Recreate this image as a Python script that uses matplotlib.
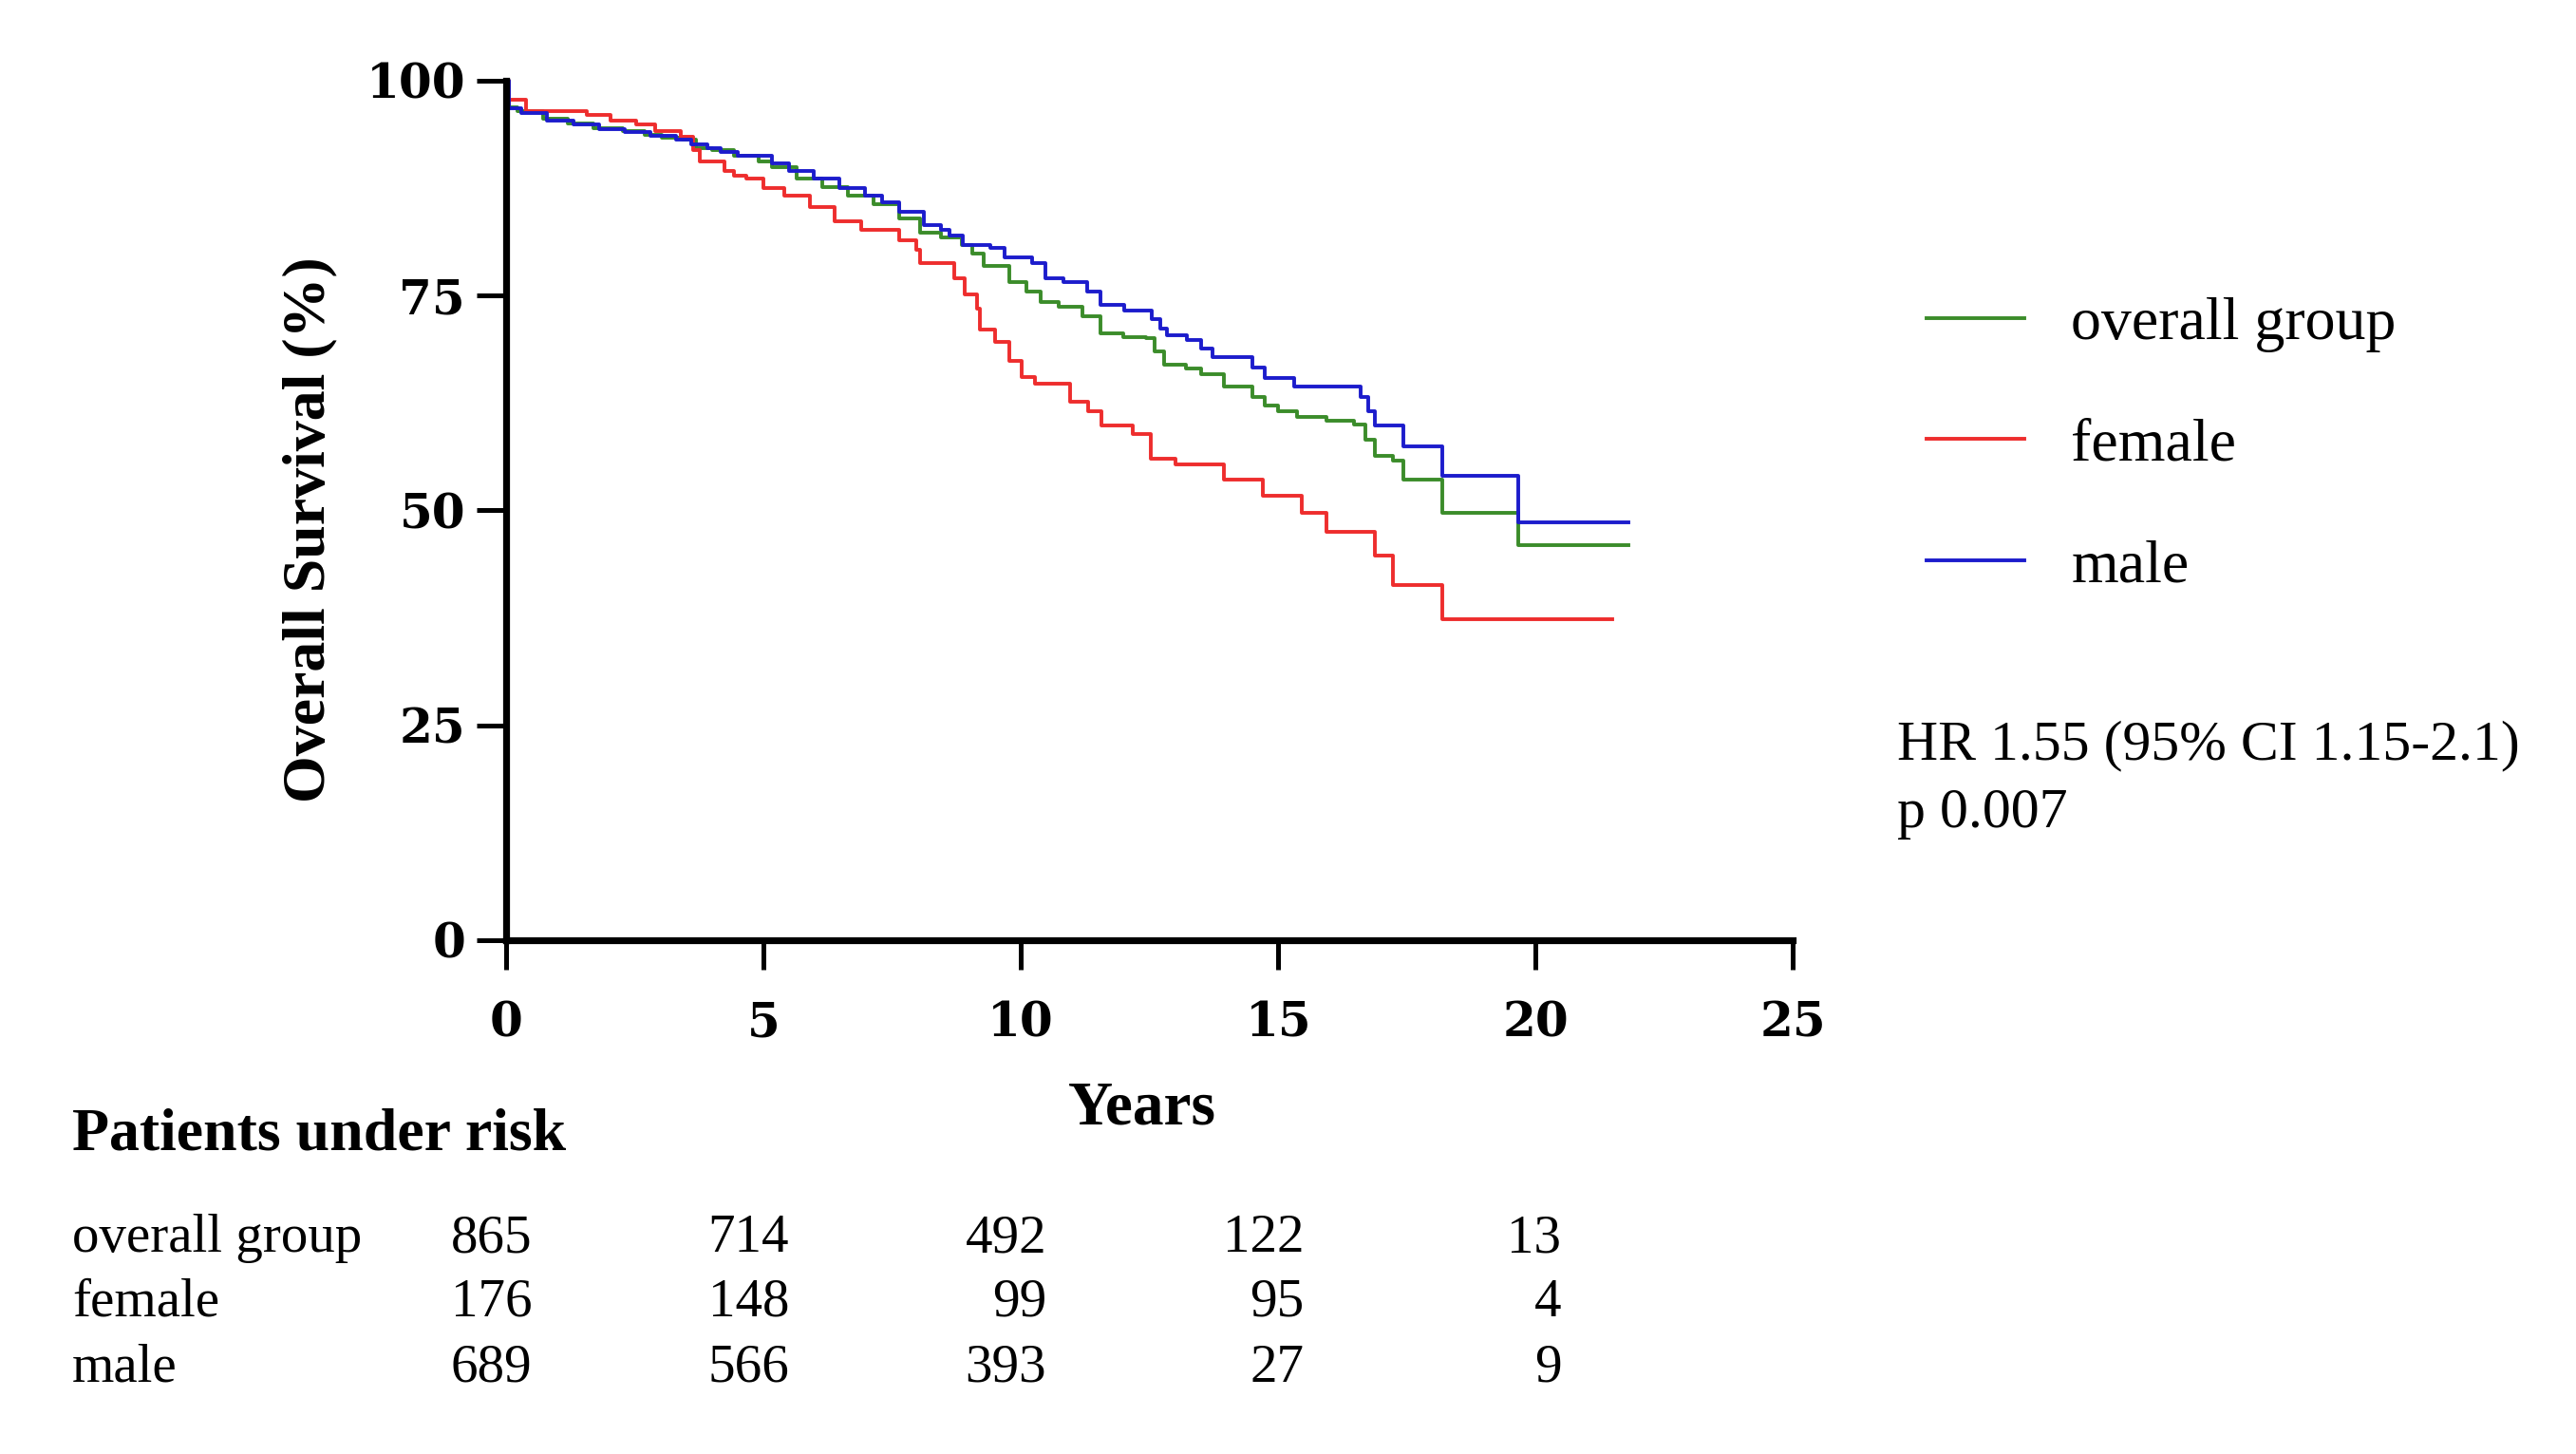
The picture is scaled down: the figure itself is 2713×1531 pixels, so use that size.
import matplotlib
matplotlib.use("Agg")
import matplotlib.pyplot as plt
from matplotlib.transforms import blended_transform_factory

# survival steps (years, % surviving)
overall_t = [0, 0.05, 0.22, 0.71, 1.2, 1.7, 2.27, 2.69, 3.02, 3.43, 3.68, 4.0, 4.42,
             4.91, 5.16, 5.65, 6.15, 6.64, 7.13, 7.63, 8.04, 8.45, 8.86, 9.06, 9.28,
             9.77, 10.1, 10.39, 10.74, 11.19, 11.54, 11.99, 12.43, 12.6, 12.79, 13.2,
             13.5, 13.94, 14.5, 14.74, 15.0, 15.36, 15.93, 16.47, 16.69, 16.87, 17.22,
             17.44, 18.18, 19.66, 21.8]
overall_s = [100, 96.9, 96.5, 95.6, 95.0, 94.5, 94.1, 93.7, 93.4, 93.2, 92.2, 91.9, 91.3,
             90.6, 89.9, 88.6, 87.6, 86.6, 85.6, 84.0, 82.3, 81.8, 80.9, 79.9, 78.4,
             76.6, 75.5, 74.2, 73.7, 72.6, 70.6, 70.2, 70.0, 68.5, 67.0, 66.5,
             65.9, 64.4, 63.2, 62.2, 61.5, 60.9, 60.4, 60.0, 58.2, 56.4, 55.8,
             53.6, 49.7, 46.0, 46.0]

female_t = [0, 0.05, 0.38, 1.57, 2.03, 2.52, 2.89, 3.39, 3.63, 3.76, 4.25, 4.42, 4.67,
            5.0, 5.40, 5.90, 6.39, 6.89, 7.63, 7.96, 8.04, 8.70, 8.90, 9.15, 9.2, 9.5,
            9.77, 10.02, 10.27, 10.96, 11.3, 11.56, 12.17, 12.52, 13.01, 13.94, 14.7,
            15.45, 15.94, 16.87, 17.22, 18.18, 21.49]
female_s = [100, 97.8, 96.5, 96.0, 95.4, 94.9, 94.1, 93.5, 91.9, 90.6, 89.5, 88.9, 88.6,
            87.5, 86.6, 85.3, 83.6, 82.7, 81.4, 80.3, 78.8, 77.0, 75.1, 73.5, 71.1, 69.6,
            67.4, 65.5, 64.8, 62.6, 61.5, 59.9, 58.9, 56.0, 55.3, 53.6, 51.7,
            49.7, 47.5, 44.7, 41.3, 37.3, 37.3]

male_t = [0, 0.05, 0.3, 0.8, 1.3, 1.8, 2.3, 2.8, 3.3, 3.6, 3.9, 4.17, 4.5, 5.16, 5.49,
          5.98, 6.48, 6.97, 7.3, 7.63, 8.12, 8.45, 8.62, 8.88, 9.4, 9.68, 10.21, 10.48,
          10.83, 11.28, 11.54, 12.0, 12.55, 12.7, 12.83, 13.23, 13.5, 13.72, 14.5, 14.74,
          15.31, 16.6, 16.75, 16.87, 17.44, 18.18, 19.66, 21.8]
male_s = [100, 96.8, 96.2, 95.4, 94.9, 94.4, 94.0, 93.6, 93.2, 92.6, 92.2, 91.7, 91.3,
          90.4, 89.5, 88.6, 87.5, 86.6, 85.8, 84.7, 83.2, 82.7, 82.0, 80.9, 80.6, 79.4,
          78.8, 77.0, 76.6, 75.5, 73.9, 73.3, 72.3, 71.2, 70.4, 69.8, 68.8, 67.8, 66.6,
          65.4, 64.4, 63.2, 61.5, 59.9, 57.4, 54.0, 48.6, 48.6]

group_names = ["overall group", "female", "male"]
risk_years = [0, 5, 10, 15, 20]
risk_overall = [865, 714, 492, 122, 13]
risk_female = [176, 148, 99, 95, 4]
risk_male = [689, 566, 393, 27, 9]

x_ticks = [0, 5, 10, 15, 20, 25]
y_ticks = [0, 25, 50, 75, 100]

green, red, blue = "#3b8c2a", "#ee2d2d", "#1c1ccc"
serif = "Liberation Serif"

fig = plt.figure(figsize=(27.13, 15.31), dpi=100)
ax = fig.add_axes([0.1965, 0.3534, 0.4995, 0.5911])

lw = 2.8
ax.step(overall_t, overall_s, where="post", color=green, lw=lw, label=group_names[0], clip_on=False)
ax.step(female_t, female_s, where="post", color=red, lw=lw, label=group_names[1], clip_on=False)
ax.step(male_t, male_s, where="post", color=blue, lw=lw, label=group_names[2], clip_on=False)

ax.set_xlim(0, 25)
ax.set_ylim(0, 100)
ax.set_xticks(x_ticks)
ax.set_yticks(y_ticks)
for side in ["top", "right"]:
    ax.spines[side].set_visible(False)
for side in ["left", "bottom"]:
    ax.spines[side].set_linewidth(5.2)
ax.tick_params(axis="both", direction="out", length=22, width=3.6)
ax.tick_params(axis="y", pad=9)
ax.tick_params(axis="x", pad=24)
for lab in ax.get_xticklabels() + ax.get_yticklabels():
    lab.set_fontfamily("DejaVu Serif")
    lab.set_fontweight("bold")
    lab.set_fontsize(36)

ax.set_ylabel("Overall Survival (%)", fontfamily=serif, fontweight="bold", fontsize=46)
ax.yaxis.set_label_coords(-0.131, 0.478)
ax.set_xlabel("Years", fontfamily=serif, fontweight="bold", fontsize=47)
ax.xaxis.set_label_coords(0.494, -0.163)

fig.legend(loc="upper left", bbox_to_anchor=(0.748, 0.796), frameon=False,
           prop={"family": serif, "size": 46}, handlelength=1.6, handletextpad=0.78,
           labelspacing=1.08, borderpad=0, borderaxespad=0)

fig.text(0.7365, 0.487, "HR 1.55 (95% CI 1.15-2.1)", fontfamily=serif, fontsize=43, va="center")
fig.text(0.7365, 0.4405, "p 0.007", fontfamily=serif, fontsize=43, va="center")

# patients under risk table
fig.text(0.028, 0.219, "Patients under risk", fontfamily=serif, fontweight="bold",
         fontsize=46, va="center")
row_y = [0.148, 0.104, 0.059]
tr = blended_transform_factory(ax.transData, fig.transFigure)
for name, counts, yy in zip(group_names, [risk_overall, risk_female, risk_male], row_y):
    fig.text(0.028, yy, name, fontfamily=serif, fontsize=41, va="center")
    for yr, n in zip(risk_years, counts):
        ax.text(yr + 0.5, yy, str(n), transform=tr, fontfamily=serif, fontsize=41,
                ha="right", va="center", clip_on=False)

fig.savefig("out.png", dpi=100)
